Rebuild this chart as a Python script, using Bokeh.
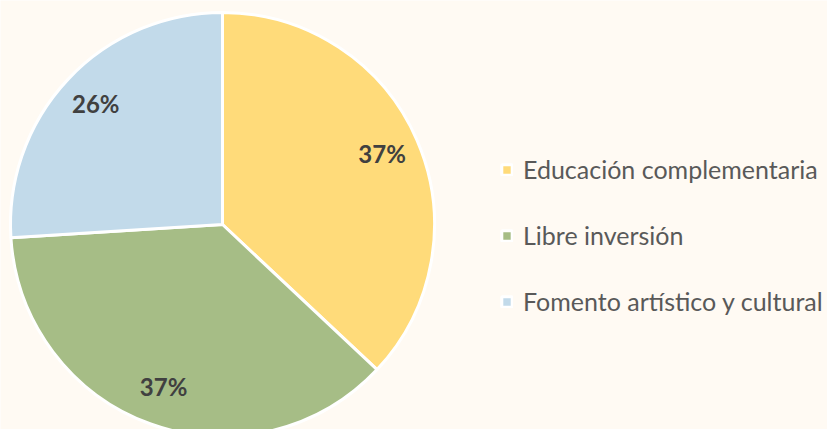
import math
from bokeh.plotting import figure
from bokeh.models import ColumnDataSource, Legend, LegendItem, Range1d
from bokeh.core.properties import value
from bokeh.embed import file_html
from bokeh.resources import INLINE

categories = ["Educación complementaria", "Libre inversión", "Fomento artístico y cultural"]
shares = [37, 37, 26]
labels = ["37%", "37%", "26%"]
colors = ["#FFDB7A", "#A6BD86", "#C2DAEA"]

BG = "#FFFAF3"
W, H = 827, 429
cx, cy = 222, H - 224
R = 212

total = sum(shares)
starts, ends, lx, ly = [], [], [], []
cum = 0.0
for s in shares:
    a0 = math.pi / 2 - 2 * math.pi * cum / total
    a1 = math.pi / 2 - 2 * math.pi * (cum + s) / total
    starts.append(a0)
    ends.append(a1)
    mid = (a0 + a1) / 2
    lx.append(cx + 0.82 * R * math.cos(mid))
    ly.append(cy + 0.82 * R * math.sin(mid) + 2)
    cum += s

src = ColumnDataSource(dict(start=starts, end=ends, color=colors, cat=categories,
                            lx=lx, ly=ly, lab=labels,
                            x=[cx] * 3, y=[cy] * 3))

p = figure(width=W, height=H, output_backend="svg", toolbar_location=None,
           x_range=Range1d(0, W), y_range=Range1d(0, H),
           min_border=0, background_fill_color=BG, border_fill_color=BG)
p.axis.visible = False
p.grid.visible = False
p.outline_line_color = None

r = p.wedge(x="x", y="y", radius=R, start_angle="start", end_angle="end",
            direction="clock", fill_color="color", line_color="white",
            line_width=3, source=src)

p.text(x="lx", y="ly", text="lab", source=src, text_align="center",
       text_baseline="middle", text_font=value("Lato"), text_font_style="bold",
       text_font_size="24px", text_color="#404040")

items = [LegendItem(label=categories[i], renderers=[r], index=i) for i in range(3)]
legend = Legend(items=items, location=(500, 113), orientation="vertical",
                background_fill_alpha=0, border_line_color=None,
                label_text_font="Lato", label_text_font_size="25px",
                label_text_color="#595959", glyph_width=13, glyph_height=13,
                label_standoff=10, spacing=36, label_height=28, padding=0, margin=0)
p.add_layout(legend, "center")

html = file_html(p, INLINE)
html = html.replace("<body>", '<body style="background:%s">' % BG, 1)
open("out.html", "w").write(html)
